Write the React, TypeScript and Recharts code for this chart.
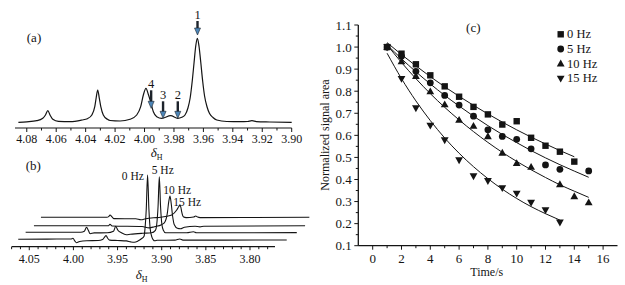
import React from "react";
import {
  LineChart,
  ComposedChart,
  Line,
  Scatter,
  XAxis,
  YAxis,
  ReferenceDot,
  ReferenceLine,
  Legend,
} from "recharts";

const SERIF = '"Liberation Serif", "Times New Roman", serif';
const INK = "#141414";

// ---- (a) 1H spectrum: [ppm, intensity a.u.] ----
const SPEC_A: [number, number][] = [
  [4.0857, 5.7], [4.08, 6.2], [4.0732, 7.3], [4.0691, 9.7], [4.0673, 13], [4.0657, 17.3],
  [4.0642, 13], [4.0623, 8.7], [4.0585, 6.6], [4.0506, 6.4], [4.0426, 8], [4.0388, 9.3],
  [4.0358, 13], [4.0338, 21.3], [4.0329, 29.7], [4.0318, 38], [4.0307, 29.7], [4.0297, 21.3],
  [4.028, 13], [4.0252, 8.7], [4.0234, 7.5], [4.0166, 7], [4.0098, 8.7], [4.0053, 13],
  [4.0026, 21.3], [4.0008, 33], [3.999, 39.7], [3.9975, 34], [3.9962, 28], [3.994, 16.3],
  [3.9917, 11.3], [3.9883, 9.7], [3.9822, 12.3], [3.9774, 9.7], [3.9747, 10.7], [3.9725, 13],
  [3.9705, 20], [3.969, 30], [3.9675, 48], [3.9663, 66], [3.9652, 82], [3.9641, 89.7],
  [3.963, 82], [3.9618, 66], [3.9605, 47], [3.9592, 32], [3.9575, 21], [3.9559, 14.7],
  [3.9535, 10.5], [3.9509, 8], [3.9441, 6.5], [3.935, 6.3], [3.93, 6.5], [3.927, 7.3],
  [3.924, 6.4], [3.915, 6], [3.9, 5.6],
];
const SPEC_A_TICKS = [4.08, 4.07, 4.06, 4.05, 4.04, 4.03, 4.02, 4.01, 4.0, 3.99, 3.98, 3.97, 3.96, 3.95, 3.94, 3.93, 3.92, 3.91, 3.9];
const SPEC_A_LABELS = [4.08, 4.06, 4.04, 4.02, 4.0, 3.98, 3.96, 3.94, 3.92, 3.9];
const ARROW_TEXT = ["1", "2", "3", "4"];
const ARROW_PPM = [3.964, 3.9774, 3.9874, 3.9955];
const ARROW_TIP = [93, 9.7, 9.7, 19.7];
const ARROW_LEN = [14, 17, 17, 18];

// ---- (b) stacked spectra at 0/5/10/15 Hz: [ppm, intensity a.u.] ----
const TRACE_0HZ: [number, number][] = [
  [4.0625, 0], [4.03, 0.2], [4.003, 0.3], [4.0005, 1], [3.9985, -1.5], [3.9965, -3.4],
  [3.993, -2.2], [3.985, -1.4], [3.972, -1.2], [3.967, -0.2], [3.9645, 2.5], [3.963, 3.8],
  [3.9615, 1.5], [3.959, -0.8], [3.95, -1.2], [3.94, -1.6], [3.935, -2.6], [3.931, -3],
  [3.927, -1.8], [3.923, 0.5], [3.92, 3], [3.919, 10], [3.9175, 30], [3.916, 64.3],
  [3.9145, 30], [3.913, 10], [3.911, 2], [3.9095, -0.5], [3.908, -1.5], [3.905, -1],
  [3.885, -0.8], [3.8795, 0.3], [3.876, -0.8], [3.83, -0.8], [3.7584, -0.7],
];
const TRACE_5HZ: [number, number][] = [
  [4.0625, 0], [4.0, 0], [3.996, 1], [3.9935, 5], [3.9915, 2], [3.9895, -1.5],
  [3.985, -0.6], [3.97, -0.5], [3.963, 1], [3.9605, 6], [3.958, 2], [3.954, -0.5],
  [3.9485, -2.5], [3.944, -2], [3.93, -1], [3.92, -0.5], [3.9155, 2], [3.914, 8],
  [3.9125, 26], [3.9111, 55.6], [3.9097, 26], [3.9082, 8], [3.9065, 2], [3.904, -0.5],
  [3.88, -0.5], [3.8725, 0.5], [3.869, -0.5], [3.7554, -0.3],
];
const TRACE_10HZ: [number, number][] = [
  [4.0625, 0], [3.978, 0], [3.9764, 1.5], [3.974, -0.3], [3.94, -0.8], [3.932, -2.2],
  [3.926, -1], [3.918, 1], [3.914, 4], [3.9115, 12], [3.9098, 24], [3.9084, 29.7],
  [3.907, 22], [3.9055, 10], [3.9035, 1], [3.9, -2.5], [3.8966, -3], [3.892, -1.5],
  [3.88, -0.5], [3.8744, -1.2], [3.87, -0.5], [3.7554, 0],
];
const TRACE_15HZ: [number, number][] = [
  [4.0625, 0], [3.988, 0], [3.9855, 1], [3.9843, 2.3], [3.982, 0.5], [3.9798, -1.3],
  [3.955, -1.5], [3.9492, -2.5], [3.944, -1.5], [3.935, -0.5], [3.927, 0], [3.92, 1],
  [3.9144, 2.3], [3.9087, 7.3], [3.9065, 10.5], [3.905, 12.3], [3.904, 10], [3.9031, 5.6],
  [3.9013, 0.6], [3.898, -0.3], [3.8895, 0.3], [3.8872, 1.3], [3.885, 0.2], [3.8823, -0.3],
  [3.7585, 0],
];
const TRACE_NAMES = ["0 Hz", "5 Hz", "10 Hz", "15 Hz"];
const TRACE_PEAK_PPM = [3.916, 3.9111, 3.9084, 3.905];
const TRACE_PEAK_I = [64.3, 55.6, 29.7, 12.3];
const SPEC_B_TICKS = [4.07, 4.06, 4.05, 4.04, 4.03, 4.02, 4.01, 4.0, 3.99, 3.98, 3.97, 3.96, 3.95, 3.94, 3.93, 3.92, 3.91, 3.9, 3.89, 3.88, 3.87, 3.86, 3.85, 3.84, 3.83, 3.82, 3.81, 3.8, 3.79, 3.78];
const SPEC_B_LABELS = [4.05, 4.0, 3.95, 3.9, 3.85, 3.8];

// ---- (c) normalized signal area vs time ----
const TIME = [1, 2, 3, 4, 5, 6, 7, 8, 9, 10, 11, 12, 13, 14, 15];
const AREA_0HZ = [1.0, 0.97, 0.922, 0.872, 0.822, 0.775, 0.729, 0.695, 0.649, 0.664, 0.589, 0.553, 0.526, 0.481];
const AREA_5HZ = [1.0, 0.958, 0.89, 0.838, 0.781, 0.737, 0.687, 0.625, 0.595, 0.582, 0.539, 0.466, 0.446, null, 0.439];
const AREA_10HZ = [1.0, 0.934, 0.868, 0.798, 0.739, 0.669, 0.642, 0.595, 0.52, 0.473, 0.456, null, 0.377, 0.323, 0.295];
const AREA_15HZ = [1.0, 0.857, 0.724, 0.645, 0.579, 0.488, 0.416, 0.394, 0.362, 0.337, 0.296, 0.262, 0.206];
const FIT_0HZ = [1.02, 0.966, 0.915, 0.866, 0.82, 0.777, 0.736, 0.697, 0.66, 0.625, 0.592, 0.561, 0.531, 0.503];
const FIT_5HZ = [1.01, 0.947, 0.888, 0.833, 0.781, 0.733, 0.687, 0.644, 0.604, 0.567, 0.531, 0.498, 0.467, 0.438, 0.41];
const FIT_10HZ = [1.01, 0.93, 0.857, 0.789, 0.727, 0.67, 0.617, 0.568, 0.523, 0.482, 0.444, 0.409, 0.376, 0.347, 0.319];
const FIT_15HZ = [0.972, 0.857, 0.756, 0.667, 0.588, 0.519, 0.458, 0.404, 0.356, 0.314, 0.277, 0.245, 0.216];
const TIME_TICKS = [0, 1, 2, 3, 4, 5, 6, 7, 8, 9, 10, 11, 12, 13, 14, 15, 16];
const TIME_LABELS = [0, 2, 4, 6, 8, 10, 12, 14, 16];
const AREA_TICKS = [0.1, 0.15, 0.2, 0.25, 0.3, 0.35, 0.4, 0.45, 0.5, 0.55, 0.6, 0.65, 0.7, 0.75, 0.8, 0.85, 0.9, 0.95, 1.0, 1.05, 1.1];
const AREA_LABELS = [0.1, 0.2, 0.3, 0.4, 0.5, 0.6, 0.7, 0.8, 0.9, 1.0, 1.1];
const MARKER_KINDS = ["square", "circle", "up", "down"];

// layout of panel (b): stacking offsets in px
const B_PX_PER_PPM = 882.7;
const B_LEFT = 4.0699;
const B_RIGHT = 3.7283;
const B_AXIS_END = 3.7717;
const B_PLOT_H = 76.7;
const TRACE_SHIFT = [0, 7.4, 15.7, 22.7];
const TRACE_LIFT = [7.4, 14.4, 21, 29.4];
const TRACE_LABEL_POS: [number, number, "start" | "end"][] = [
  [-3.7, 5, "end"], [-7.6, -2.5, "start"], [-6.7, -2.2, "start"], [-6.7, 1, "start"],
];

const isIn = (list: number[], v: number) => list.some((m) => Math.abs(m - v) < 1e-6);

function BottomTick({ x, y, payload, labels, digits, fontSize, majorLen, minorLen, gap }: any) {
  const v = payload.value;
  const major = isIn(labels, v);
  return (
    <g>
      <line x1={x} x2={x} y1={y} y2={y + (major ? majorLen : minorLen)} stroke={INK} strokeWidth={1} />
      {major && (
        <text x={x} y={y + gap} textAnchor="middle" dominantBaseline="central"
          fontFamily={SERIF} fontSize={fontSize} fill={INK}>
          {v.toFixed(digits)}
        </text>
      )}
    </g>
  );
}

function LeftTick({ x, y, payload }: any) {
  const v = payload.value;
  const major = isIn(AREA_LABELS, v);
  return (
    <g>
      <line x1={x} x2={x - (major ? 4 : 2.5)} y1={y} y2={y} stroke={INK} strokeWidth={1} />
      {major && (
        <text x={x - 6.5} y={y} textAnchor="end" dominantBaseline="central"
          fontFamily={SERIF} fontSize={13} fill={INK}>
          {v.toFixed(1)}
        </text>
      )}
    </g>
  );
}

function Arrow({ cx, cy, text, len }: any) {
  return (
    <g>
      <line x1={cx} x2={cx} y1={cy - len} y2={cy - 5} stroke="#1d232b" strokeWidth={2.4} />
      <polygon points={`${cx - 3},${cy - 7} ${cx + 3},${cy - 7} ${cx},${cy}`}
        fill="#4d86b8" stroke="#1d232b" strokeWidth={0.6} />
      <text x={cx} y={cy - len - 2} textAnchor="middle" fontFamily={SERIF} fontSize={12.5} fill={INK}>
        {text}
      </text>
    </g>
  );
}

function Marker({ kind, cx, cy }: any) {
  if (kind === "square") return <rect x={cx - 3.2} y={cy - 3.2} width={6.4} height={6.4} fill={INK} />;
  if (kind === "circle") return <circle cx={cx} cy={cy} r={3.4} fill={INK} />;
  if (kind === "up")
    return <polygon points={`${cx},${cy - 4.2} ${cx + 3.9},${cy + 2.7} ${cx - 3.9},${cy + 2.7}`} fill={INK} />;
  return <polygon points={`${cx},${cy + 4.2} ${cx + 3.9},${cy - 2.7} ${cx - 3.9},${cy - 2.7}`} fill={INK} />;
}

function Tag({ x, y, size = 13, children }: any) {
  return (
    <div style={{
      position: "absolute", left: x, top: y, transform: "translate(-50%, -50%)",
      fontFamily: SERIF, fontSize: size, color: INK, whiteSpace: "nowrap", lineHeight: 1,
    }}>
      {children}
    </div>
  );
}

const DeltaH = () => (
  <span><i>δ</i><sub style={{ fontSize: 8, verticalAlign: "-3px", lineHeight: 0 }}>H</sub></span>
);

function PanelA() {
  const data = SPEC_A.map(([ppm, i]) => ({ ppm, i }));
  return (
    <LineChart width={310} height={160} data={data} margin={{ top: 38, right: 18.3, bottom: 12, left: 15 }}>
      <XAxis dataKey="ppm" type="number" domain={[3.9, 4.088]} reversed ticks={SPEC_A_TICKS}
        interval={0} tickSize={0} tickMargin={0} tickLine={false} height={20}
        axisLine={{ stroke: INK, strokeWidth: 1.2 }}
        tick={(p: any) => <BottomTick {...p} labels={SPEC_A_LABELS} digits={2} fontSize={12} majorLen={4} minorLen={2.5} gap={11} />} />
      <YAxis hide domain={[0, 90]} />
      <Line dataKey="i" type="monotone" stroke={INK} strokeWidth={1.2} dot={false} isAnimationActive={false} />
      {ARROW_TEXT.map((t, k) => (
        <ReferenceDot key={t} x={ARROW_PPM[k]} y={ARROW_TIP[k]} r={0} ifOverflow="visible"
          shape={(p: any) => <Arrow cx={p.cx} cy={p.cy} text={t} len={ARROW_LEN[k]} />} />
      ))}
    </LineChart>
  );
}

function PanelB() {
  const traces = [TRACE_0HZ, TRACE_5HZ, TRACE_10HZ, TRACE_15HZ];
  return (
    <LineChart width={320} height={125} margin={{ top: 10, right: 6.7, bottom: 13.3, left: 11.7 }}>
      {traces.map((_, k) => {
        const s = TRACE_SHIFT[k] / B_PX_PER_PPM;
        return (
          <XAxis key={`x${k}`} xAxisId={k} dataKey="ppm" type="number" hide={k !== 0}
            domain={[B_RIGHT + s, B_LEFT + s]} reversed allowDataOverflow
            ticks={k === 0 ? SPEC_B_TICKS : undefined} interval={0} tickSize={0} tickMargin={0}
            tickLine={false} axisLine={false} height={25}
            tick={(p: any) => <BottomTick {...p} labels={SPEC_B_LABELS} digits={2} fontSize={12} majorLen={3.5} minorLen={2.5} gap={12.6} />} />
        );
      })}
      {traces.map((_, k) => (
        <YAxis key={`y${k}`} yAxisId={k} hide allowDataOverflow
          domain={[-TRACE_LIFT[k], B_PLOT_H - TRACE_LIFT[k]]} />
      ))}
      <ReferenceLine xAxisId={0} yAxisId={0} stroke={INK} strokeWidth={1.2}
        segment={[{ x: B_LEFT, y: -TRACE_LIFT[0] }, { x: B_AXIS_END, y: -TRACE_LIFT[0] }]} />
      {traces.map((tr, k) => (
        <Line key={`l${k}`} xAxisId={k} yAxisId={k} data={tr.map(([ppm, i]) => ({ ppm, i }))}
          dataKey="i" type="monotone" stroke={INK} strokeWidth={1.1} dot={false} isAnimationActive={false} />
      ))}
      {TRACE_NAMES.map((name, k) => (
        <ReferenceDot key={name} xAxisId={k} yAxisId={k} x={TRACE_PEAK_PPM[k]} y={TRACE_PEAK_I[k]}
          r={0} ifOverflow="visible"
          shape={(p: any) => (
            <text x={p.cx + TRACE_LABEL_POS[k][0]} y={p.cy + TRACE_LABEL_POS[k][1]}
              textAnchor={TRACE_LABEL_POS[k][2]} fontFamily={SERIF} fontSize={11.5} fill={INK}>
              {name}
            </text>
          )} />
      ))}
    </LineChart>
  );
}

const pts = (vals: (number | null)[]) =>
  vals.map((v, k) => ({ t: TIME[k], v })).filter((d) => d.v != null);

function DecayLegend() {
  return (
    <svg width={70} height={60}>
      {TRACE_NAMES.map((name, k) => (
        <g key={name}>
          <Marker kind={MARKER_KINDS[k]} cx={5.7} cy={7.3 + k * 14.7} />
          <text x={12} y={7.3 + k * 14.7} dominantBaseline="central" fontFamily={SERIF} fontSize={12.5} fill={INK}>
            {name}
          </text>
        </g>
      ))}
    </svg>
  );
}

function PanelC() {
  const areas = [AREA_0HZ, AREA_5HZ, AREA_10HZ, AREA_15HZ];
  const fits = [FIT_0HZ, FIT_5HZ, FIT_10HZ, FIT_15HZ];
  return (
    <ComposedChart width={315} height={285} margin={{ top: 25, right: 7.5, bottom: 9.3, left: 8.3 }}>
      <XAxis dataKey="t" type="number" domain={[-1, 17]} ticks={TIME_TICKS} interval={0}
        tickSize={0} tickMargin={0} tickLine={false} height={30}
        axisLine={{ stroke: INK, strokeWidth: 1.3 }}
        tick={(p: any) => <BottomTick {...p} labels={TIME_LABELS} digits={0} fontSize={13} majorLen={4} minorLen={2.5} gap={12.6} />} />
      <YAxis type="number" domain={[0.1, 1.1]} ticks={AREA_TICKS} interval={0} width={40}
        tickSize={0} tickMargin={0} tickLine={false}
        axisLine={{ stroke: INK, strokeWidth: 1.3 }} tick={(p: any) => <LeftTick {...p} />} />
      {fits.map((f, k) => (
        <Line key={`f${k}`} data={pts(f)} dataKey="v" type="monotone" stroke={INK} strokeWidth={1}
          dot={false} isAnimationActive={false} />
      ))}
      {areas.map((a, k) => (
        <Scatter key={`s${k}`} data={pts(a)} dataKey="v" isAnimationActive={false}
          shape={(p: any) => <Marker kind={MARKER_KINDS[k]} cx={p.cx} cy={p.cy} />} />
      ))}
      <Legend layout="horizontal" verticalAlign="middle" align="center"
        wrapperStyle={{ top: 27, left: 245, width: 70 }} content={() => <DecayLegend />} />
    </ComposedChart>
  );
}

export default function App() {
  return (
    <div style={{ position: "absolute", left: 0, top: 0, width: 625, height: 285, background: "#fff", overflow: "hidden" }}>
      <div style={{ position: "absolute", left: 0, top: 0 }}><PanelA /></div>
      <div style={{ position: "absolute", left: 0, top: 160 }}><PanelB /></div>
      <div style={{ position: "absolute", left: 310, top: 0 }}><PanelC /></div>
      <Tag x={34} y={37}>(a)</Tag>
      <Tag x={33.3} y={165}>(b)</Tag>
      <Tag x={473.3} y={26.7}>(c)</Tag>
      <Tag x={156.7} y={151.5} size={13}><DeltaH /></Tag>
      <Tag x={141.7} y={274} size={13}><DeltaH /></Tag>
      <Tag x={486.7} y={271.7} size={12}>Time/s</Tag>
      <div style={{
        position: "absolute", left: 325, top: 135, transform: "translate(-50%, -50%) rotate(-90deg)",
        fontFamily: SERIF, fontSize: 12, color: INK, whiteSpace: "nowrap", lineHeight: 1,
      }}>
        Normalized signal area
      </div>
    </div>
  );
}
